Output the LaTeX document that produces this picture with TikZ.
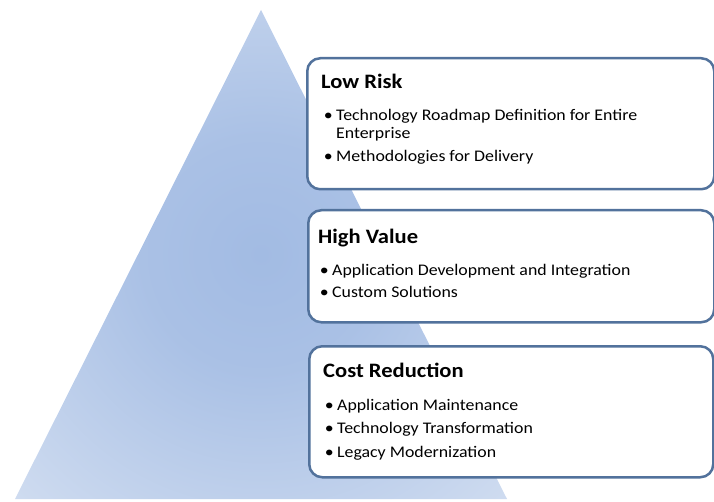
\documentclass[tikz,border=0pt]{standalone}
\usepackage{fontspec}
\setmainfont[FakeStretch=1.1]{Carlito}

\definecolor{pyrin}{HTML}{A2BBE3}
\definecolor{pyrout}{HTML}{D6E1F2}
\definecolor{boxline}{HTML}{52729C}
\pgfdeclareradialshading{pyramid}{\pgfpoint{0bp}{0bp}}{color(0bp)=(pyrin); color(12bp)=(pyrin!85!pyrout); color(40bp)=(pyrout); color(71bp)=(pyrout)}

\tikzset{
  tier/.style={draw=boxline, line width=2.5pt, rounded corners=13pt, fill=white, anchor=north west, inner sep=0pt},
  heading/.style={font=\bfseries\fontsize{20.5}{24}\selectfont, anchor=base west, inner sep=0pt},
  point/.style={font=\fontsize{16.2}{18}\selectfont, anchor=base west, inner sep=0pt, align=left}
}
\newcommand{\bul}{\makebox[0pt][r]{\textbullet\hspace{3.5pt}}}

\begin{document}
\begin{tikzpicture}[x=1pt,y=-1pt]
  \useasboundingbox (0,0) rectangle (714,502);

  % pyramid
  \coordinate (apex)  at (261,10);
  \coordinate (baseL) at (15,499);
  \coordinate (baseR) at (507,499);
  \path[shading=pyramid] (apex) -- (baseR) -- (baseL) -- cycle;

  % tiers
  \node[tier, minimum width=407pt, minimum height=131pt] (low)  at (306,57)  {};
  \node[tier, minimum width=406pt, minimum height=112pt] (high) at (307,209) {};
  \node[tier, minimum width=404pt, minimum height=131pt] (cost) at (308,345) {};

  \node[heading] (low-t) at (321,88.5) {Low Risk};
  \node[point] (low-1) at (336,139) {\bul Technology Roadmap Definition for Entire\\Enterprise};
  \node[point] (low-2) at (336,162) {\bul Methodologies for Delivery};

  \node[heading] (high-t) at (318,243.3) {High Value};
  \node[point] (high-1) at (332,276) {\bul Application Development and Integration};
  \node[point] (high-2) at (332,298) {\bul Custom Solutions};

  \node[heading] (cost-t) at (323,377) {Cost Reduction};
  \node[point] (cost-1) at (337,410) {\bul Application Maintenance};
  \node[point] (cost-2) at (337,433) {\bul Technology Transformation};
  \node[point] (cost-3) at (337,457) {\bul Legacy Modernization};
\end{tikzpicture}
\end{document}
